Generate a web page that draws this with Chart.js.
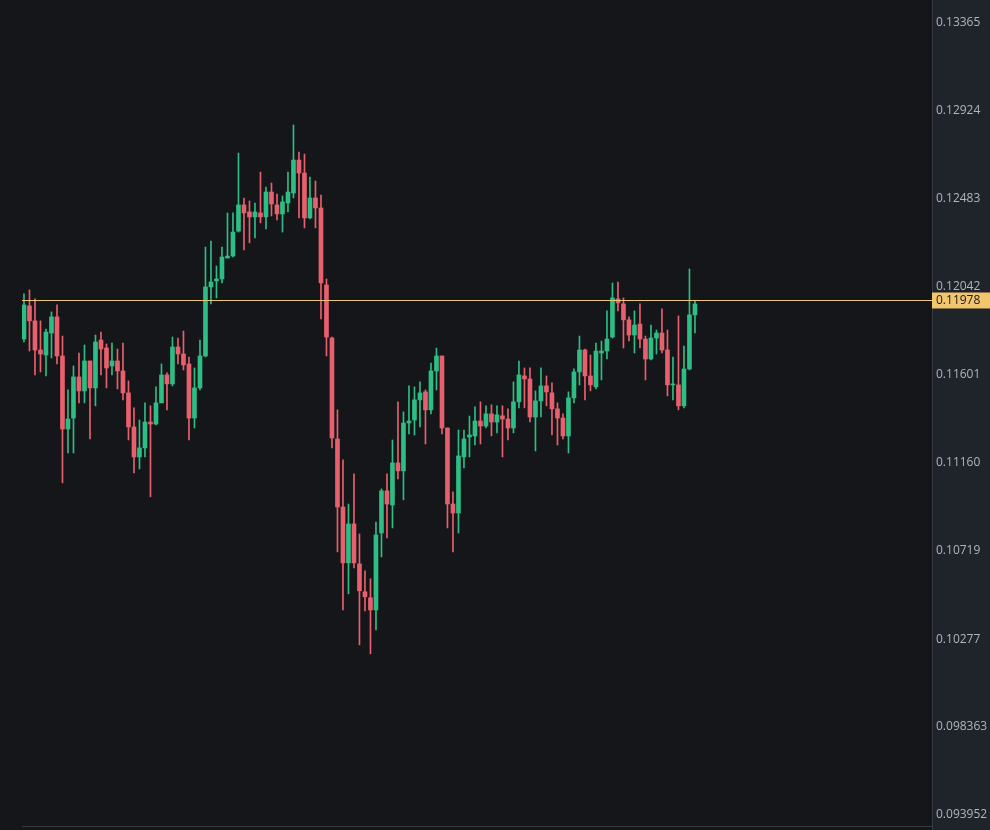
<!DOCTYPE html>
<html><head><meta charset="utf-8">
<script src="https://cdn.jsdelivr.net/npm/chart.js@4.4.1/dist/chart.umd.min.js"></script>
<style>html,body{margin:0;padding:0;background:#151619;}#w{width:990px;height:830px;}</style>
</head><body><div id="w"><canvas id="c"></canvas></div>
<script>
// price values in units of 1e-5
const opens = [11781,11947,11872,11726,11701,11811,11892,11696,11330,11385,11591,11521,11671,11536,11776,11736,11646,11671,11621,11511,11340,11190,11235,11365,11355,11461,11601,11556,11741,11706,11656,11385,11536,11696,12042,12072,12082,12187,12197,12322,12453,12418,12393,12413,12393,12518,12453,12408,12463,12513,12678,12613,12388,12488,12438,12052,11786,11280,10939,10659,10854,10654,10514,10484,10423,10809,11020,10949,11160,11120,11360,11375,11476,11516,11426,11621,11696,11335,10954,10909,11190,11290,11295,11370,11345,11406,11365,11396,11380,11335,11466,11596,11581,11390,11471,11546,11511,11431,11385,11295,11486,11616,11726,11596,11541,11711,11721,11791,11982,11957,11877,11801,11856,11781,11681,11786,11811,11726,11551,11551,11446,11631,11902];
const highs = [12007,12027,11982,11872,11831,11917,11952,11796,11526,11646,11711,11751,11671,11801,11816,11756,11761,11731,11761,11571,11436,11375,11461,11446,11541,11656,11611,11791,11786,11821,11691,11636,11776,12242,12272,12147,12242,12413,12413,12713,12488,12473,12463,12618,12543,12563,12508,12498,12618,12854,12718,12708,12593,12573,12503,12082,11791,11426,11175,10954,11105,10804,10619,10579,10864,11030,11105,11275,11466,11416,11546,11541,11566,11526,11661,11736,11696,11335,11015,11325,11325,11395,11441,11466,11446,11451,11446,11446,11431,11566,11671,11636,11636,11521,11636,11596,11561,11461,11406,11516,11631,11796,11731,11701,11761,11771,11922,12062,12067,11987,11892,11922,11957,11796,11851,11826,11932,11826,11691,11897,11746,12132,11972];
const lows = [11766,11721,11601,11616,11596,11686,11656,11060,11210,11210,11461,11461,11280,11446,11601,11536,11601,11531,11476,11275,11110,11130,11190,10990,11350,11461,11426,11546,11656,11626,11275,11335,11526,11691,11957,11987,12062,12187,12192,12317,12228,12263,12288,12363,12333,12398,12378,12317,12418,12488,12388,12338,12383,12338,11882,11696,11235,10714,10423,10504,10634,10248,10418,10203,10323,10689,10784,10834,11080,10975,11305,11300,11340,11255,11406,11526,11305,10834,10714,10809,11135,11190,11250,11255,11335,11295,11310,11190,11275,11310,11436,11436,11365,11220,11390,11446,11300,11250,11280,11210,11461,11551,11476,11521,11531,11576,11681,11786,11922,11736,11771,11711,11736,11576,11676,11706,11711,11496,11476,11426,11436,11626,11811];
const closes = [11952,11872,11726,11706,11816,11892,11696,11330,11380,11591,11521,11671,11536,11766,11731,11636,11671,11621,11511,11340,11190,11235,11365,11355,11461,11601,11556,11741,11706,11651,11385,11536,11696,12042,12067,12082,12192,12197,12317,12453,12413,12393,12418,12393,12518,12458,12408,12468,12518,12678,12613,12388,12488,12438,12062,11791,11285,10939,10659,10854,10659,10519,10489,10423,10799,11020,10954,11160,11120,11360,11370,11476,11511,11426,11621,11696,11335,10954,10909,11195,11280,11300,11370,11345,11406,11365,11401,11380,11335,11466,11601,11581,11390,11471,11546,11516,11431,11385,11295,11486,11616,11726,11596,11551,11721,11721,11781,11987,11962,11877,11801,11851,11781,11681,11786,11811,11726,11551,11556,11446,11631,11902,11957];
const tickLabels = ['0.13365','0.12924','0.12483','0.12042','0.11601','0.11160','0.10719','0.10277','0.098363','0.093952'];
const lastPrice = 0.11978;

const UP='#2ebd85', DN='#e8606e';
const S=1e-5;
const bodies = opens.map((o,i)=>({x:i,y:[o*S,closes[i]*S]}));
const wicks = opens.map((o,i)=>({x:i,y:[lows[i]*S,highs[i]*S]}));
const col = ctx => closes[ctx.dataIndex]>=opens[ctx.dataIndex]?UP:DN;

const deco = {
  id:'deco',
  beforeDraw(ch){
    const c=ch.ctx, a=ch.chartArea;
    c.save();
    c.fillStyle='#151619'; c.fillRect(0,0,ch.width,ch.height);
    c.fillStyle='#1f232a'; c.fillRect(a.right,0,ch.width-a.right,ch.height);
    c.fillStyle='#363a42'; c.fillRect(a.right,0,1,ch.height);
    c.fillRect(a.left,a.bottom,a.right-a.left,1);
    c.restore();
  },
  afterDatasetsDraw(ch){
    const c=ch.ctx, a=ch.chartArea, sc=ch.scales.y;
    c.save();
    c.font='12px "Open Sans", sans-serif'; c.textBaseline='middle'; c.fillStyle='#b2b5be';
    tickLabels.forEach(t=>{c.fillText(t,a.right+4,sc.getPixelForValue(parseFloat(t)));});
    const y=Math.round(sc.getPixelForValue(lastPrice))+0.5;
    c.strokeStyle='#e9c774'; c.lineWidth=1;
    c.beginPath(); c.moveTo(a.left,y); c.lineTo(a.right,y); c.stroke();
    c.fillStyle='#f2c66d'; c.fillRect(a.right,y-8,ch.width-a.right,16);
    c.fillStyle='#1a1a1a';
    c.fillText(lastPrice.toFixed(5),a.right+4,y+0.5);
    c.restore();
  }
};

new Chart(document.getElementById('c'),{
  type:'bar',
  data:{datasets:[
    {data:wicks,backgroundColor:col,barThickness:1,grouped:false,order:2},
    {data:bodies,backgroundColor:col,barThickness:4,minBarLength:1,grouped:false,order:1}
  ]},
  options:{
    responsive:true,maintainAspectRatio:false,animation:false,
    layout:{padding:{left:22,top:0,right:0,bottom:4}},
    plugins:{legend:{display:false},tooltip:{enabled:false}},
    scales:{
      x:{type:'linear',min:-0.36,max:165.1,display:false,offset:false},
      y:{position:'right',min:0.093401,max:0.134803,
        grid:{display:false,drawTicks:false},border:{display:false},
        afterFit(s){s.width=58;},
        ticks:{display:false}
      }
    }
  },
  plugins:[deco]
});
</script></body></html>
